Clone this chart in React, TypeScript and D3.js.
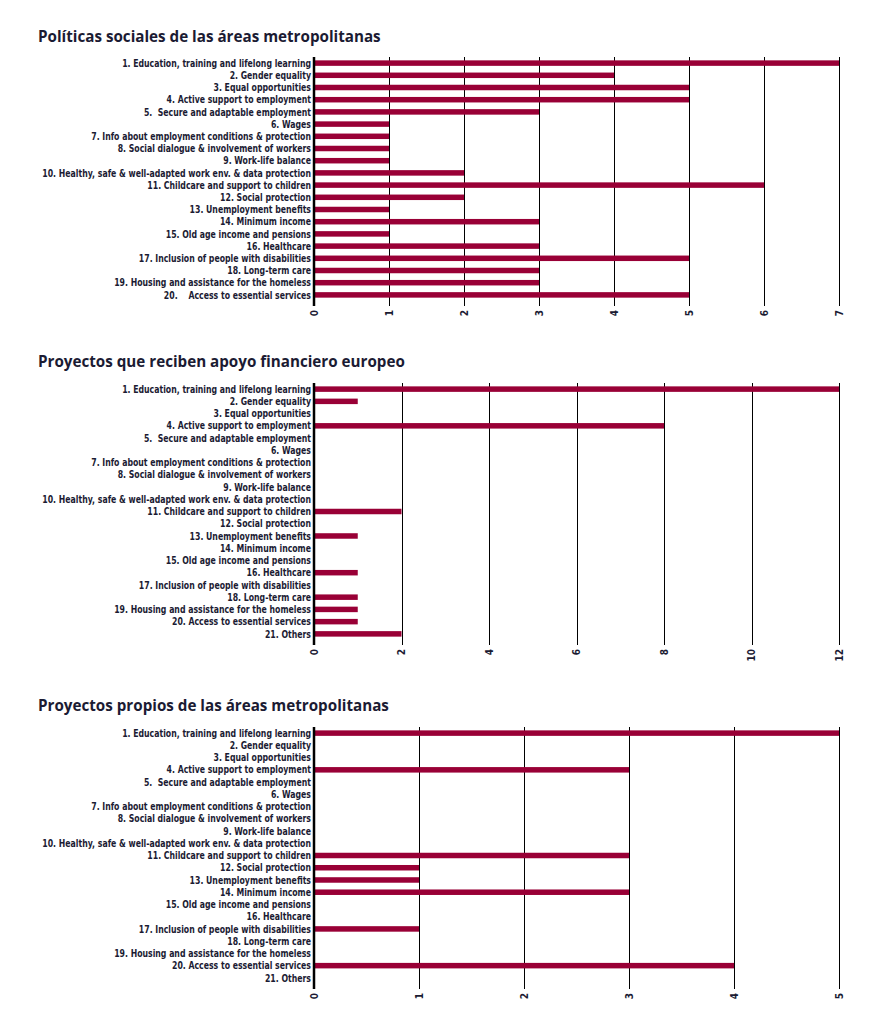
import React from "react";
import * as d3 from "d3";

const labels20 = [
  "1. Education, training and lifelong learning",
  "2. Gender equality",
  "3. Equal opportunities",
  "4. Active support to employment",
  "5.  Secure and adaptable employment",
  "6. Wages",
  "7. Info about employment conditions & protection",
  "8. Social dialogue & involvement of workers",
  "9. Work-life balance",
  "10. Healthy, safe & well-adapted work env. & data protection",
  "11. Childcare and support to children",
  "12. Social protection",
  "13. Unemployment benefits",
  "14. Minimum income",
  "15. Old age income and pensions",
  "16. Healthcare",
  "17. Inclusion of people with disabilities",
  "18. Long-term care",
  "19. Housing and assistance for the homeless",
  "20.    Access to essential services",
];

const labels21 = [
  "1. Education, training and lifelong learning",
  "2. Gender equality",
  "3. Equal opportunities",
  "4. Active support to employment",
  "5.  Secure and adaptable employment",
  "6. Wages",
  "7. Info about employment conditions & protection",
  "8. Social dialogue & involvement of workers",
  "9. Work-life balance",
  "10. Healthy, safe & well-adapted work env. & data protection",
  "11. Childcare and support to children",
  "12. Social protection",
  "13. Unemployment benefits",
  "14. Minimum income",
  "15. Old age income and pensions",
  "16. Healthcare",
  "17. Inclusion of people with disabilities",
  "18. Long-term care",
  "19. Housing and assistance for the homeless",
  "20. Access to essential services",
  "21. Others",
];

const titles = [
  "Políticas sociales de las áreas metropolitanas",
  "Proyectos que reciben apoyo financiero europeo",
  "Proyectos propios de las áreas metropolitanas",
];

const values1 = [7, 4, 5, 5, 3, 1, 1, 1, 1, 2, 6, 2, 1, 3, 1, 3, 5, 3, 3, 5];
const values2 = [12, 1, 0, 8, 0, 0, 0, 0, 0, 0, 2, 0, 1, 0, 0, 1, 0, 1, 1, 1, 2];
const values3 = [5, 0, 0, 3, 0, 0, 0, 0, 0, 0, 3, 1, 1, 3, 0, 0, 1, 0, 0, 4, 0];

const ticks1 = [0, 1, 2, 3, 4, 5, 6, 7];
const ticks2 = [0, 2, 4, 6, 8, 10, 12];
const ticks3 = [0, 1, 2, 3, 4, 5];

const TEXT = "#1b1b33";
const BAR = "#990036";
const LABEL_FONT = "'DejaVu Sans Condensed', 'DejaVu Sans', sans-serif";
const TITLE_FONT = "'Open Sans', 'Noto Sans', sans-serif";

type ChartProps = {
  title: string;
  labels: string[];
  values: number[];
  ticks: number[];
  top: number;
  bottom: number;
  titleY: number;
};

function Chart({ title, labels, values, ticks, top, bottom, titleY }: ChartProps) {
  const x0 = 314;
  const x1 = 839;
  const x = d3.scaleLinear().domain([0, ticks[ticks.length - 1]]).range([x0, x1]);
  const y = d3.scaleBand<number>().domain(d3.range(labels.length)).range([top, bottom]).paddingInner(0);
  const barH = 5.5;
  const px = (v: number) => Math.round(x(v)) + 0.5;
  return (
    <g>
      <text x={38} y={titleY} fontFamily={TITLE_FONT} fontWeight={700} fontSize={15.2} fill={TEXT}>
        {title}
      </text>
      {ticks.map((t) => (
        <line key={"g" + t} x1={px(t)} x2={px(t)} y1={top} y2={bottom + 5} stroke="#000" strokeWidth={1} />
      ))}
      {values.map((v, i) =>
        v > 0 ? (
          <rect
            key={"b" + i}
            x={x(0)}
            y={(y(i) as number) + y.bandwidth() / 2 - barH / 2}
            width={x(v) - x(0)}
            height={barH}
            fill={BAR}
          />
        ) : null
      )}
      <line x1={x0} x2={x0} y1={top} y2={bottom + 5} stroke="#000" strokeWidth={2.5} />
      {labels.map((l, i) => (
        <text
          key={"l" + i}
          transform={`translate(311,${(y(i) as number) + y.bandwidth() / 2}) scale(0.84,1)`}
          dy="0.35em"
          textAnchor="end"
          fontFamily={LABEL_FONT}
          fontWeight={700}
          fontSize={10.3}
          fill={TEXT}
          style={{ whiteSpace: "pre" }}
        >
          {l}
        </text>
      ))}
      {ticks.map((t) => (
        <text
          key={"t" + t}
          transform={`translate(${x(t)},${bottom + 9}) rotate(-90)`}
          textAnchor="end"
          dy="0.35em"
          fontFamily={LABEL_FONT}
          fontWeight={700}
          fontSize={10}
          fill={TEXT}
        >
          {t}
        </text>
      ))}
    </g>
  );
}

export default function App() {
  return (
    <svg
      width={874}
      height={1025}
      style={{ position: "absolute", left: 0, top: 0, background: "#fff" }}
    >
      <rect width={874} height={1025} fill="#fff" />
      <Chart title={titles[0]} labels={labels20} values={values1} ticks={ticks1} top={57} bottom={301} titleY={42} />
      <Chart title={titles[1]} labels={labels21} values={values2} ticks={ticks2} top={383} bottom={640} titleY={367} />
      <Chart title={titles[2]} labels={labels21} values={values3} ticks={ticks3} top={727} bottom={984} titleY={711} />
    </svg>
  );
}
